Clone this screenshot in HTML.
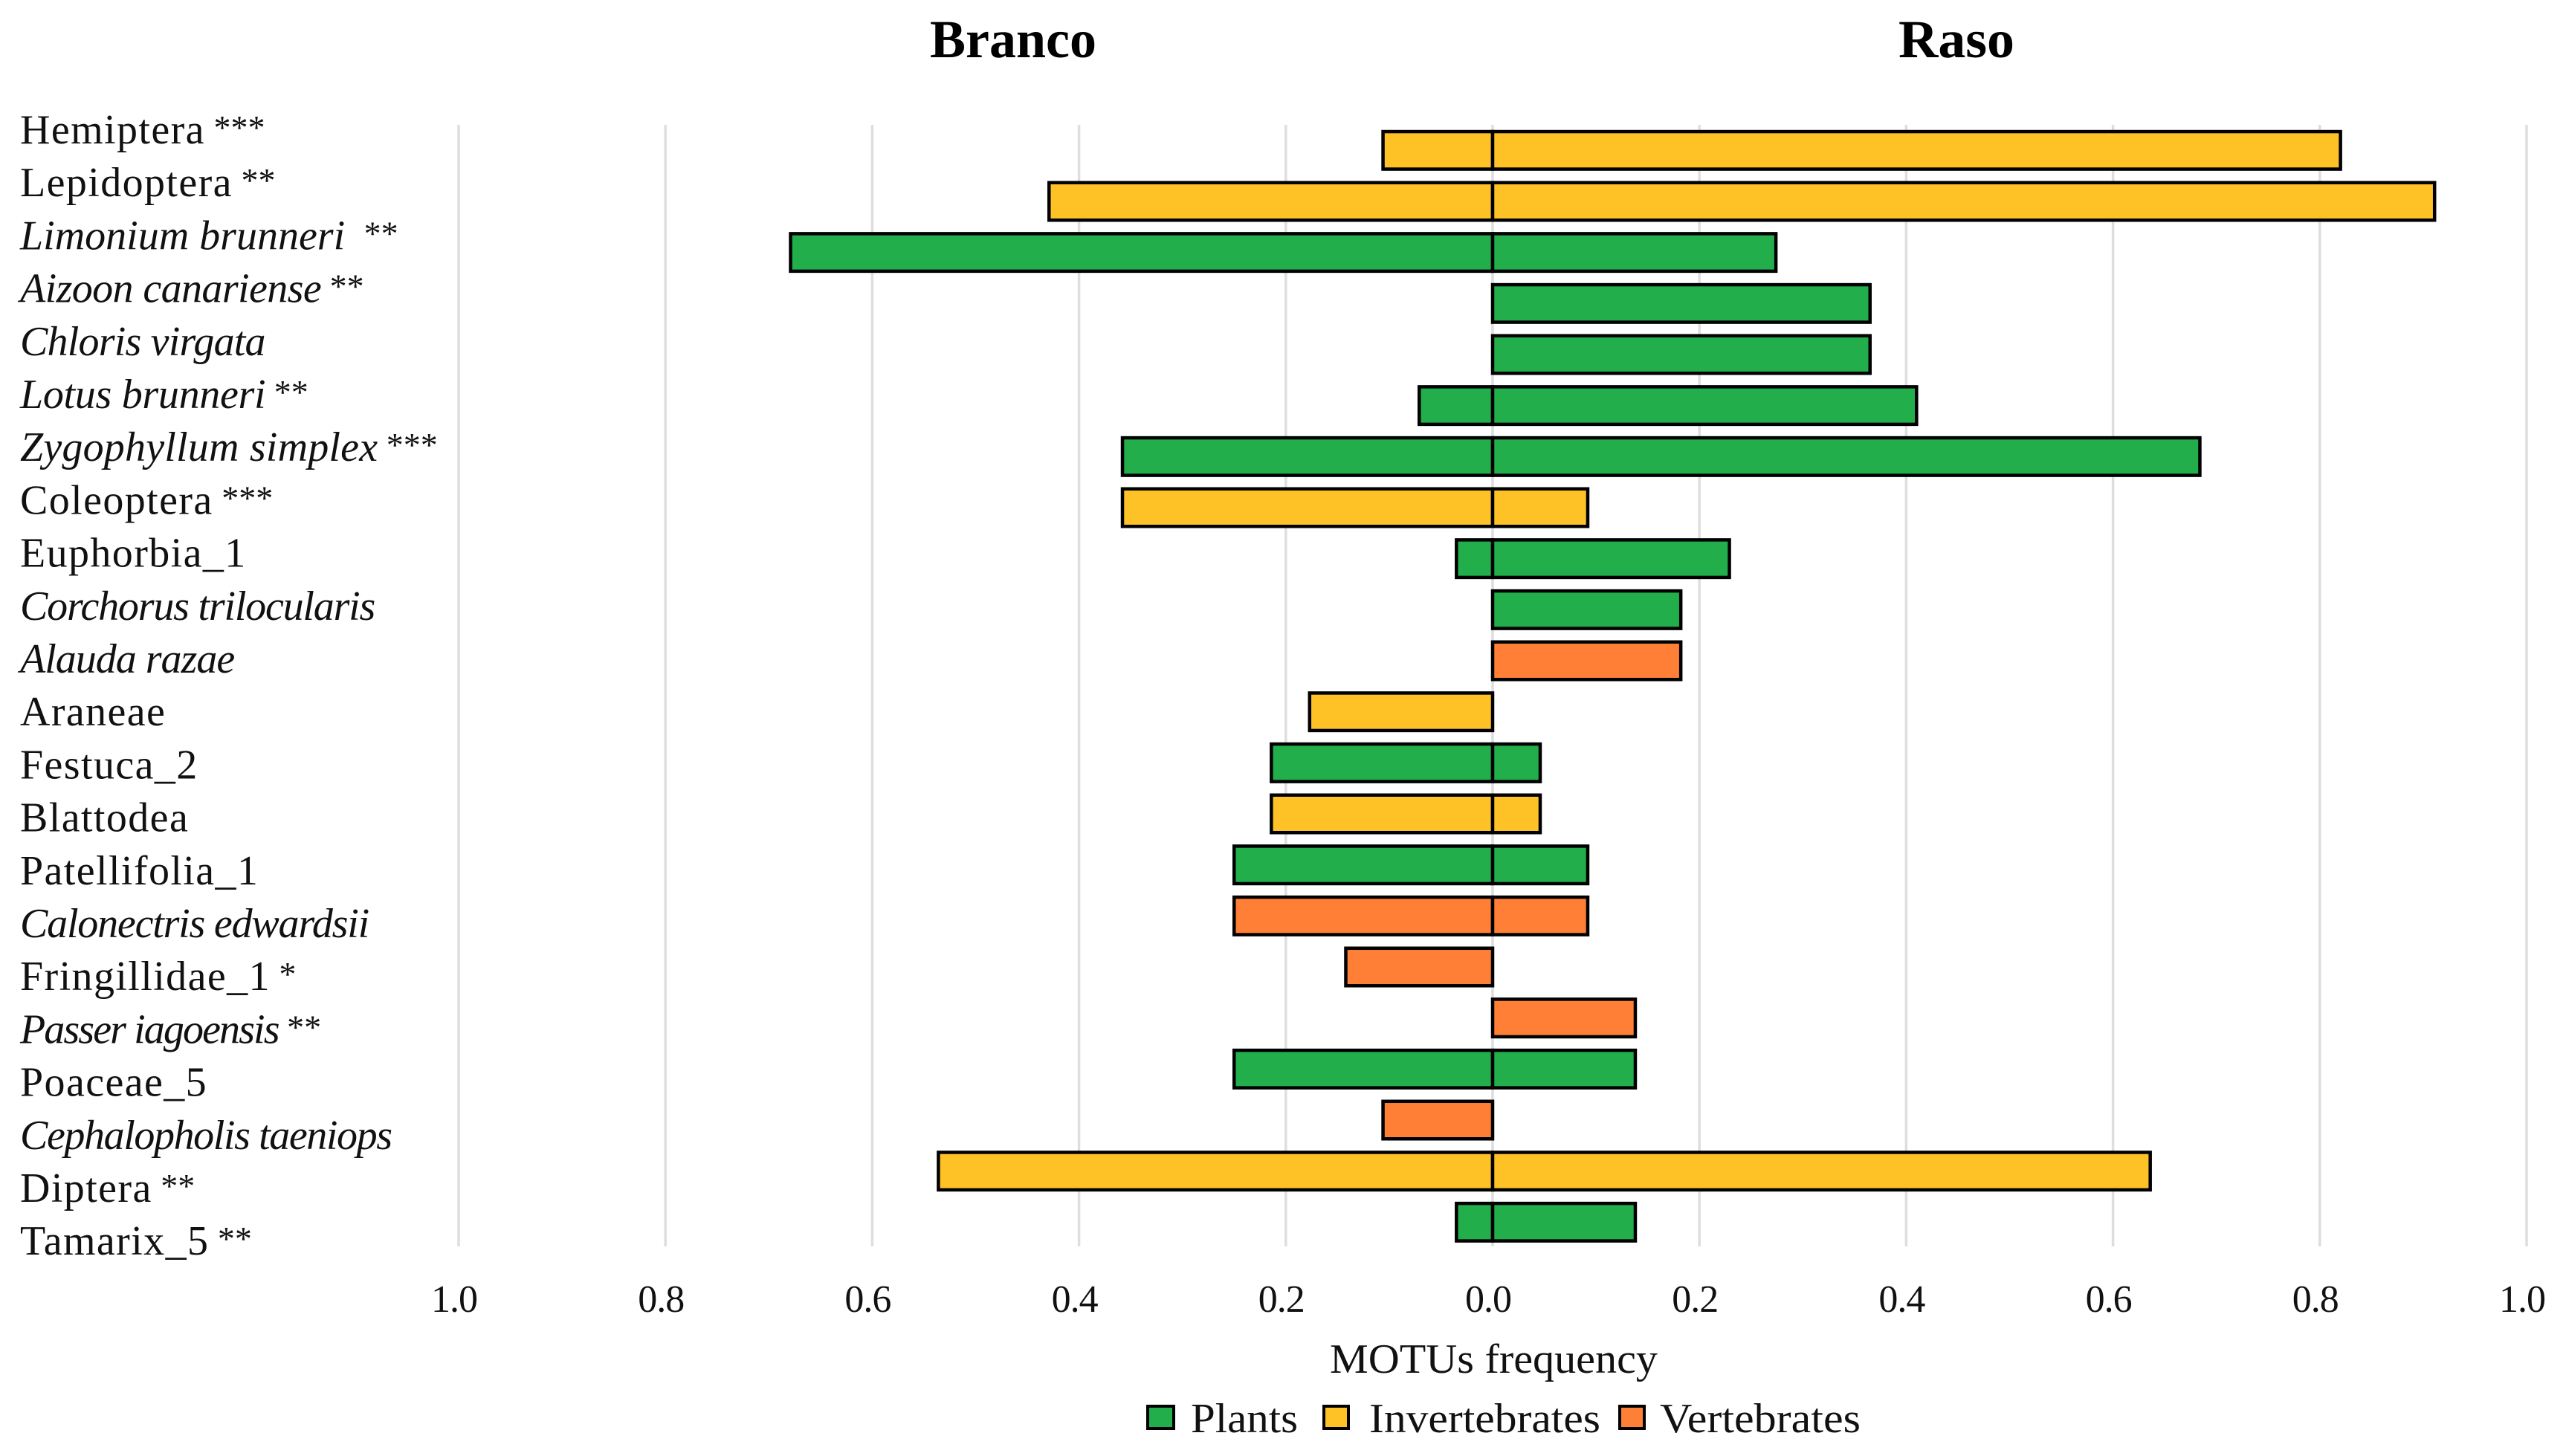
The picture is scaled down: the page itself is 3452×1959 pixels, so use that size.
<!DOCTYPE html>
<html lang="en">
<head>
<meta charset="utf-8">
<title>MOTUs frequency: Branco vs Raso</title>
<style>
html,body{margin:0;padding:0;background:#fff;width:3452px;height:1959px;overflow:hidden}
svg{display:block;font-family:"Liberation Serif","DejaVu Serif",serif;fill:#111}
</style>
</head>
<body>
<svg id="chart" xmlns="http://www.w3.org/2000/svg" width="3452" height="1959" viewBox="0 0 3452 1959">
  <rect width="3452" height="1959" fill="#fff"/>
  <g id="grid"></g>
  <g id="bars"></g>
  <g id="labels"></g>
  <g id="ticks"></g>
  <text x="1251" y="77" font-size="72" font-weight="bold" fill="#000">Branco</text>
  <text x="2554" y="77" font-size="72" font-weight="bold" fill="#000" textLength="156" lengthAdjust="spacingAndGlyphs">Raso</text>
  <text x="1789" y="1847" font-size="56" textLength="441" lengthAdjust="spacingAndGlyphs">MOTUs frequency</text>
  <g>
    <rect x="1544" y="1892" width="35" height="30" fill="#22AF4B" stroke="#000" stroke-width="4"/>
    <text x="1602" y="1927" font-size="56" textLength="144" lengthAdjust="spacingAndGlyphs">Plants</text>
    <rect x="1781" y="1892" width="33" height="30" fill="#FFC226" stroke="#000" stroke-width="4"/>
    <text x="1842" y="1927" font-size="56" textLength="311" lengthAdjust="spacingAndGlyphs">Invertebrates</text>
    <rect x="2179" y="1892" width="33" height="30" fill="#FF7F36" stroke="#000" stroke-width="4"/>
    <text x="2233" y="1927" font-size="56" textLength="270" lengthAdjust="spacingAndGlyphs">Vertebrates</text>
  </g>
</svg>
<script>
const categories = ["Hemiptera","Lepidoptera","Limonium brunneri ","Aizoon canariense","Chloris virgata","Lotus brunneri","Zygophyllum simplex","Coleoptera","Euphorbia_1","Corchorus trilocularis","Alauda razae","Araneae","Festuca_2","Blattodea","Patellifolia_1","Calonectris edwardsii","Fringillidae_1","Passer iagoensis","Poaceae_5","Cephalopholis taeniops","Diptera","Tamarix_5"];
const significance = ["***","**","**","**","","**","***","***","","","","","","","","","*","**","","","**","**"];
const italicNames = [0,0,1,1,1,1,1,0,0,1,1,0,0,0,0,1,0,1,0,1,0,0];
const groups = ["inv","inv","pla","pla","pla","pla","pla","inv","pla","pla","ver","inv","pla","inv","pla","ver","ver","ver","pla","ver","inv","pla"];
const brancoValues = [0.106,0.429,0.679,0,0,0.071,0.358,0.358,0.035,0,0,0.177,0.214,0.214,0.25,0.25,0.142,0,0.25,0.106,0.536,0.035];
const rasoValues = [0.82,0.911,0.274,0.365,0.365,0.41,0.684,0.092,0.229,0.182,0.182,0,0.046,0.046,0.092,0.092,0,0.138,0.138,0,0.636,0.138];
const tickValues = [-1,-0.8,-0.6,-0.4,-0.2,0,0.2,0.4,0.6,0.8,1];

const NS = "http://www.w3.org/2000/svg";
const groupColor = {pla:"#22AF4B",inv:"#FFC226",ver:"#FF7F36"};
const xScale = v => 2008 + v * 1391;
const barCenter = i => 202.3 + i * 68.67;
const labelBaseline = i => 193 + i * 71.2;
const BAR_H = 50.5;
const ROMAN_TRACKING = 1.4;
const ITALIC_TRACKING = -0.8;
const slug = s => s.trim().toLowerCase().replace(/[^a-z0-9]+/g,"-");
const trackingFit = {"Limonium brunneri ":0,"Aizoon canariense":-0.6,"Lotus brunneri":-0.3,"Zygophyllum simplex":0.2,"Corchorus trilocularis":-1.2,"Alauda razae":-1,"Calonectris edwardsii":-1.2,"Passer iagoensis":-1.9,"Cephalopholis taeniops":-1.4};

const gridG = document.getElementById("grid");
const barsG = document.getElementById("bars");
const labelsG = document.getElementById("labels");
const ticksG = document.getElementById("ticks");

tickValues.forEach(t => {
  const line = document.createElementNS(NS,"line");
  
  
  line.setAttribute("x1", xScale(t));
  line.setAttribute("x2", xScale(t));
  line.setAttribute("y1", 168);
  line.setAttribute("y2", 1677);
  line.setAttribute("stroke", "#dedede");
  line.setAttribute("stroke-width", "3.5");
  gridG.appendChild(line);

  const label = document.createElementNS(NS,"text");
  
  
  label.setAttribute("x", xScale(t) - 6);
  label.setAttribute("y", 1765);
  label.setAttribute("text-anchor", "middle");
  label.setAttribute("font-size", "52");
  label.setAttribute("letter-spacing", "-1");
  label.textContent = Math.abs(t).toFixed(1);
  ticksG.appendChild(label);
});

function addBar(i, value, sign, side) {
  if (value <= 0) return;
  const r = document.createElementNS(NS,"rect");
  
  
  const x0 = xScale(0), x1 = xScale(sign * value);
  r.setAttribute("x", Math.min(x0, x1));
  r.setAttribute("width", Math.abs(x1 - x0));
  r.setAttribute("y", barCenter(i) - BAR_H / 2);
  r.setAttribute("height", BAR_H);
  r.setAttribute("fill", groupColor[groups[i]]);
  r.setAttribute("stroke", "#000");
  r.setAttribute("stroke-width", "4.5");
  barsG.appendChild(r);
}

categories.forEach((name, i) => {
  addBar(i, brancoValues[i], -1, "branco");
  addBar(i, rasoValues[i], 1, "raso");

  const t = document.createElementNS(NS,"text");
  
  
  t.setAttribute("x", 27);
  t.setAttribute("y", labelBaseline(i));
  t.setAttribute("font-size", "56");
  t.style.whiteSpace = "pre";
  const nameSpan = document.createElementNS(NS,"tspan");
  
  
  if (italicNames[i]) {
    nameSpan.setAttribute("font-style", "italic");
    nameSpan.setAttribute("letter-spacing", name in trackingFit ? trackingFit[name] : ITALIC_TRACKING);
  } else {
    nameSpan.setAttribute("letter-spacing", ROMAN_TRACKING);
  }
  nameSpan.textContent = name;
  t.appendChild(nameSpan);
  if (significance[i]) {
    const star = document.createElementNS(NS,"tspan");
    
    
    star.setAttribute("font-size", "46");
    star.setAttribute("dy", "-6");
    star.textContent = " " + significance[i];
    t.appendChild(star);
  }
  labelsG.appendChild(t);
});
</script>
</body>
</html>
